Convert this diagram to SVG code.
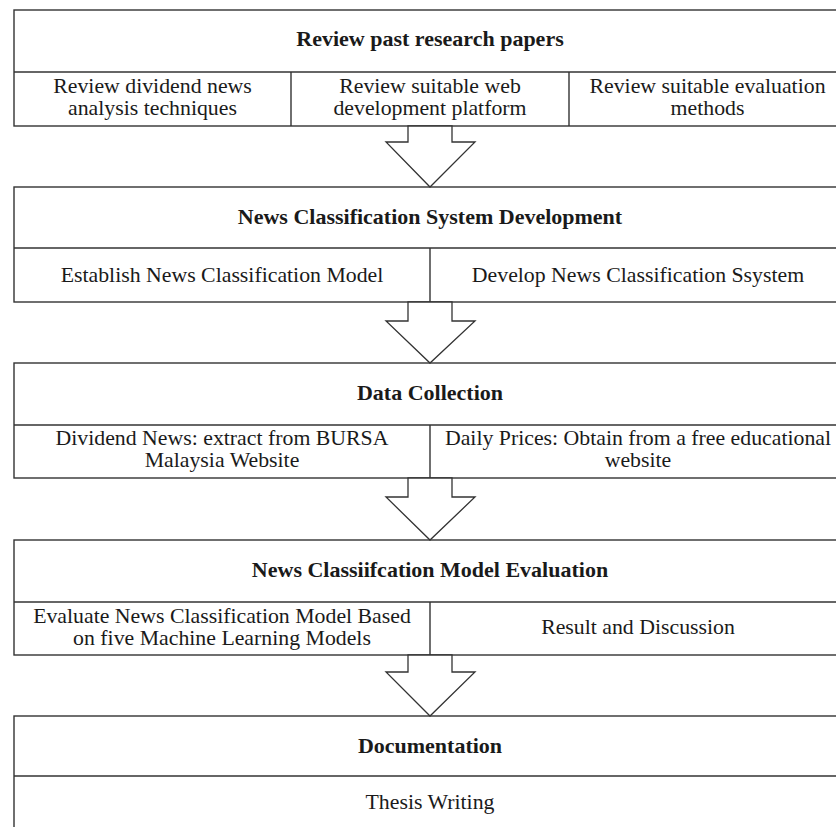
<svg xmlns="http://www.w3.org/2000/svg" width="836" height="827" viewBox="0 0 836 827">
  <style>
    .box { fill: #ffffff; stroke: #333333; stroke-width: 1.4; }
    .line { stroke: #333333; stroke-width: 1.4; fill: none; }
    .arrow { fill: #ffffff; stroke: #333333; stroke-width: 1.3; stroke-linejoin: miter; }
    text { font-family: "Liberation Serif", "Times New Roman", serif; font-size: 21.8px; fill: #1a1a1a; text-anchor: middle; }
    .head { font-weight: bold; font-size: 22px; }
  </style>
  <rect x="0" y="0" width="836" height="827" fill="#ffffff"/>

  <!-- Stage 1 -->
  <g id="stage-review">
    <rect class="box" x="14" y="10" width="832" height="116"/>
    <line class="line" x1="14" y1="72" x2="846" y2="72"/>
    <line class="line" x1="291" y1="72" x2="291" y2="126"/>
    <line class="line" x1="569" y1="72" x2="569" y2="126"/>
    <text class="head" x="430" y="46">Review past research papers</text>
    <text x="152.5" y="93">Review dividend news</text>
    <text x="152.5" y="115">analysis techniques</text>
    <text x="430" y="93">Review suitable web</text>
    <text x="430" y="115">development platform</text>
    <text x="707.5" y="93">Review suitable evaluation</text>
    <text x="707.5" y="115">methods</text>
  </g>

  <!-- Stage 2 -->
  <g id="stage-development">
    <rect class="box" x="14" y="187" width="832" height="115"/>
    <line class="line" x1="14" y1="248" x2="846" y2="248"/>
    <line class="line" x1="430" y1="248" x2="430" y2="302"/>
    <text class="head" x="430" y="224">News Classification System Development</text>
    <text x="222" y="282">Establish News Classification Model</text>
    <text x="638" y="282">Develop News Classification Ssystem</text>
  </g>

  <!-- Stage 3 -->
  <g id="stage-data">
    <rect class="box" x="14" y="363" width="832" height="115"/>
    <line class="line" x1="14" y1="425" x2="846" y2="425"/>
    <line class="line" x1="430" y1="425" x2="430" y2="478"/>
    <text class="head" x="430" y="400">Data Collection</text>
    <text x="222" y="445">Dividend News: extract from BURSA</text>
    <text x="222" y="467">Malaysia Website</text>
    <text x="638" y="445">Daily Prices: Obtain from a free educational</text>
    <text x="638" y="467">website</text>
  </g>

  <!-- Stage 4 -->
  <g id="stage-evaluation">
    <rect class="box" x="14" y="540" width="832" height="115"/>
    <line class="line" x1="14" y1="602" x2="846" y2="602"/>
    <line class="line" x1="430" y1="602" x2="430" y2="655"/>
    <text class="head" x="430" y="577">News Classiifcation Model Evaluation</text>
    <text x="222" y="623">Evaluate News Classification Model Based</text>
    <text x="222" y="645">on five Machine Learning Models</text>
    <text x="638" y="634">Result and Discussion</text>
  </g>

  <!-- Stage 5 -->
  <g id="stage-documentation">
    <rect class="box" x="14" y="716" width="832" height="130"/>
    <line class="line" x1="14" y1="776" x2="846" y2="776"/>
    <text class="head" x="430" y="753">Documentation</text>
    <text x="430" y="809">Thesis Writing</text>
  </g>

  <!-- Block arrows between stages -->
  <g id="connectors">
    <polygon class="arrow" points="408,126 452,126 452,142 475,142 430,187 386,142 408,142"/>
    <polygon class="arrow" points="408,302 452,302 452,321 475,321 430,363 386,321 408,321"/>
    <polygon class="arrow" points="408,478 452,478 452,497 475,497 430,540 386,497 408,497"/>
    <polygon class="arrow" points="408,655 452,655 452,672 475,672 430,716 386,672 408,672"/>
  </g>
</svg>
